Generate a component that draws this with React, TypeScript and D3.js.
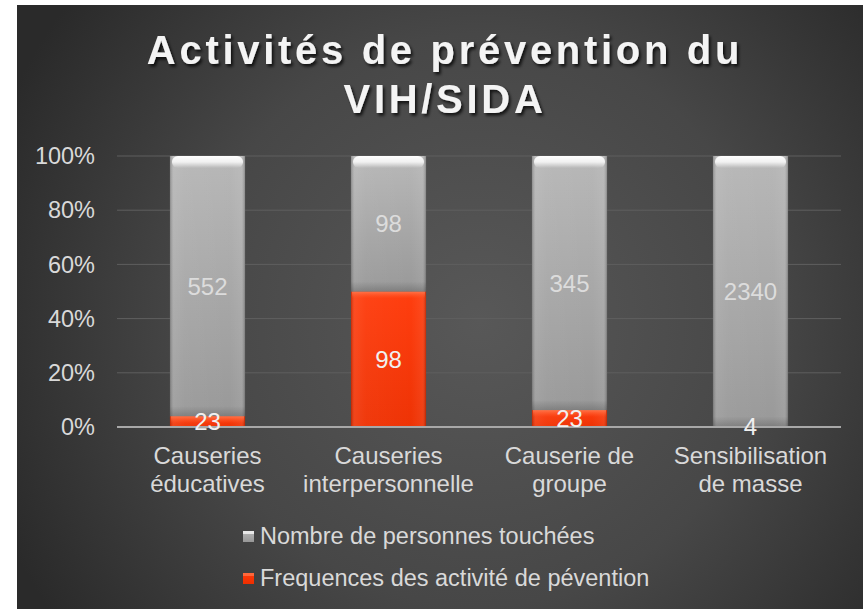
import React from "react";
import * as d3 from "d3";

const categories = [
  "Causeries éducatives",
  "Causeries interpersonnelle",
  "Causerie de groupe",
  "Sensibilisation de masse",
];
const categoryLines = [
  ["Causeries", "éducatives"],
  ["Causeries", "interpersonnelle"],
  ["Causerie de", "groupe"],
  ["Sensibilisation", "de masse"],
];
const nombrePersonnes = [552, 98, 345, 2340];
const frequences = [23, 98, 23, 4];
const seriesNames = ["Nombre de personnes touchées", "Frequences des activité de pévention"];
const yTicks = [0, 0.2, 0.4, 0.6, 0.8, 1];
const titleLines = ["Activités de prévention du", "VIH/SIDA"];

const W = 863;
const H = 609;
const FONT = "'Liberation Sans', Arial, Helvetica, sans-serif";

export default function App() {
  const rows = categories.map((c, i) => ({
    cat: c,
    freq: frequences[i],
    nombre: nombrePersonnes[i],
  }));
  const stack = d3
    .stack<any>()
    .keys(["freq", "nombre"])
    .offset(d3.stackOffsetExpand);
  const series = stack(rows);

  const x = d3
    .scaleBand<string>()
    .domain(categories)
    .range([117, 841])
    .paddingInner(0.585)
    .paddingOuter(0.2925);
  const y = d3.scaleLinear().domain([0, 1]).range([427, 156]);
  const bw = x.bandwidth();

  return (
    <svg
      width={W}
      height={H}
      style={{ position: "absolute", left: 0, top: 0, display: "block" }}
      fontFamily={FONT}
    >
      <defs>
        <radialGradient id="bg" cx="480" cy="320" r="520" gradientUnits="userSpaceOnUse">
          <stop offset="0" stopColor="#585858" />
          <stop offset="0.55" stopColor="#474747" />
          <stop offset="1" stopColor="#2a2a2a" />
        </radialGradient>
        <linearGradient id="grayV" x1="0" y1="0" x2="0" y2="1">
          <stop offset="0" stopColor="#b6b6b6" />
          <stop offset="1" stopColor="#979797" />
        </linearGradient>
        <linearGradient id="grayH" x1="0" y1="0" x2="1" y2="0">
          <stop offset="0" stopColor="#000" stopOpacity="0.22" />
          <stop offset="0.05" stopColor="#fff" stopOpacity="0.1" />
          <stop offset="0.2" stopColor="#fff" stopOpacity="0.05" />
          <stop offset="0.8" stopColor="#fff" stopOpacity="0.02" />
          <stop offset="0.95" stopColor="#fff" stopOpacity="0.08" />
          <stop offset="1" stopColor="#000" stopOpacity="0.24" />
        </linearGradient>
        <linearGradient id="redV" x1="0" y1="0" x2="0" y2="1">
          <stop offset="0" stopColor="#ff3a0a" />
          <stop offset="1" stopColor="#ee2f00" />
        </linearGradient>
        <linearGradient id="topHi" x1="0" y1="0" x2="0" y2="1">
          <stop offset="0" stopColor="#ffffff" stopOpacity="1" />
          <stop offset="0.5" stopColor="#ffffff" stopOpacity="0.8" />
          <stop offset="1" stopColor="#ffffff" stopOpacity="0" />
        </linearGradient>
        <linearGradient id="redHi" x1="0" y1="0" x2="0" y2="1">
          <stop offset="0" stopColor="#ff7a50" stopOpacity="0.9" />
          <stop offset="1" stopColor="#ff5a2a" stopOpacity="0" />
        </linearGradient>
        <linearGradient id="botDark" x1="0" y1="0" x2="0" y2="1">
          <stop offset="0" stopColor="#000" stopOpacity="0" />
          <stop offset="1" stopColor="#000" stopOpacity="0.18" />
        </linearGradient>
        <filter id="tshadow" x="-10%" y="-20%" width="120%" height="150%">
          <feDropShadow dx="2" dy="2.5" stdDeviation="1.6" floodColor="#000" floodOpacity="0.75" />
        </filter>
      </defs>

      <rect x={17} y={5} width={W - 17} height={H - 5} fill="url(#bg)" />

      {/* title */}
      <g filter="url(#tshadow)">
        {titleLines.map((t, i) => (
          <text
            key={i}
            x={445}
            y={64 + i * 49}
            textAnchor="middle"
            fontSize={40}
            fontWeight="bold"
            letterSpacing={3.7}
            fill="#f4f4f4"
          >
            {t}
          </text>
        ))}
      </g>

      {/* gridlines */}
      {yTicks.slice(1).map((t) => (
        <line
          key={t}
          x1={117}
          x2={841}
          y1={y(t)}
          y2={y(t)}
          stroke="#5f5f5f"
          strokeWidth={1}
        />
      ))}

      {/* y tick labels */}
      {yTicks.map((t) => (
        <text
          key={t}
          x={95}
          y={y(t)}
          dy="0.35em"
          textAnchor="end"
          fontSize={23.5}
          fill="#d9d9d9"
        >
          {d3.format(".0%")(t)}
        </text>
      ))}

      {/* bars */}
      {series.map((s) =>
        s.map((d, i) => {
          const x0 = x(categories[i]) as number;
          const yTop = y(d[1]);
          const yBot = y(d[0]);
          const h = Math.max(0, yBot - yTop);
          const isRed = s.key === "freq";
          return (
            <g key={s.key + i}>
              <rect x={x0} y={yTop} width={bw} height={h} fill={isRed ? "url(#redV)" : "url(#grayV)"} />
              <rect x={x0} y={yTop} width={bw} height={h} fill="url(#grayH)" />
              {!isRed && h > 12 && (
                <rect x={x0} y={yBot - Math.min(10, h * 0.1)} width={bw} height={Math.min(10, h * 0.1)} fill="url(#botDark)" />
              )}
              {isRed ? (
                <rect x={x0 + 1} y={yTop} width={bw - 2} height={Math.min(7, h)} fill="url(#redHi)" />
              ) : (
                <rect x={x0 + 2} y={yTop} width={bw - 4} height={12} rx={6} fill="url(#topHi)" />
              )}
            </g>
          );
        })
      )}

      {/* axis line */}
      <line x1={117} x2={841} y1={y(0)} y2={y(0)} stroke="#a8a8a8" strokeWidth={2} />

      {/* data labels */}
      {series.map((s) =>
        s.map((d, i) => {
          const cx = (x(categories[i]) as number) + bw / 2;
          const cy = (y(d[0]) + y(d[1])) / 2;
          const v = s.key === "freq" ? frequences[i] : nombrePersonnes[i];
          return (
            <text
              key={"l" + s.key + i}
              x={cx}
              y={cy}
              dy="0.36em"
              textAnchor="middle"
              fontSize={24}
              fill={s.key === "freq" ? "#f0f0f0" : "#dcdcdc"}
            >
              {v}
            </text>
          );
        })
      )}

      {/* category labels */}
      {categories.map((c, i) => (
        <text
          key={c}
          x={(x(c) as number) + bw / 2}
          textAnchor="middle"
          fontSize={24}
          fill="#d9d9d9"
        >
          {categoryLines[i].map((ln, j) => (
            <tspan key={j} x={(x(c) as number) + bw / 2} y={464 + j * 28}>
              {ln}
            </tspan>
          ))}
        </text>
      ))}

      {/* legend */}
      {seriesNames.map((name, i) => (
        <g key={name}>
          <rect
            x={243}
            y={531 + i * 42}
            width={11}
            height={11}
            fill={i === 0 ? "url(#grayV)" : "url(#redV)"}
          />
          <rect
            x={243}
            y={531 + i * 42}
            width={11}
            height={3}
            fill={i === 0 ? "#ffffff" : "#ff7a50"}
            opacity={0.7}
          />
          <text x={260} y={544 + i * 42} fontSize={23.5} fill="#d9d9d9">
            {name}
          </text>
        </g>
      ))}
    </svg>
  );
}
